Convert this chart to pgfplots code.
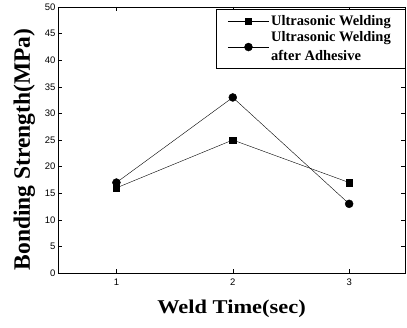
\documentclass[border=0pt]{standalone}
\usepackage{pgfplots}
\pgfplotsset{compat=1.18}
\usepackage{fontspec}
\setmainfont{Liberation Serif}
\newfontfamily\arialfont{Liberation Sans}
\newfontfamily\xlabfont[FakeStretch=1.15]{Liberation Serif}
\begin{document}
\begin{tikzpicture}
\begin{axis}[
  scale only axis,
  width=347pt, height=266pt,
  xmin=0.498, xmax=3.48,
  ymin=0, ymax=50,
  xtick={1,2,3},
  ytick={0,5,...,50},
  tick align=inside,
  major tick length=4pt,
  tick style={black, thin},
  axis line style={black, thin},
  ticklabel style={font=\arialfont\fontsize{9.5}{10}\selectfont},
  yticklabel style={xshift=1pt},
  xticklabel style={yshift=-2pt},
  /pgf/number format/assume math mode=true,
  xlabel={\xlabfont\bfseries Weld Time(sec)},
  ylabel={\bfseries Bonding Strength(MPa)},
  xlabel style={font=\fontsize{19.5}{21}\selectfont, yshift=-8pt},
  ylabel style={font=\fontsize{23.5}{25}\selectfont, at={(ticklabel cs:0.465)}, yshift=3pt},
  legend style={at={(1,1)}, anchor=north east, xshift=0pt, yshift=-2pt,
    draw=black, thin, font=\bfseries\fontsize{14.5}{19}\selectfont,
    cells={align=left}, row sep=1pt, inner xsep=12pt, inner ysep=4pt},
  legend cell align=left,
  legend image code/.code={\draw[mark repeat=2,mark phase=2,#1] plot coordinates {(0cm,0cm) (0.72cm,0cm) (1.44cm,0cm)};},
]
\addplot[black, thin, mark=square*, mark size=3.2pt] coordinates {(1,16) (2,25) (3,17)};
\addlegendentry{Ultrasonic Welding}
\addplot[black, thin, mark=*, mark size=4pt] coordinates {(1,17) (2,33) (3,13)};
\addlegendentry{Ultrasonic Welding\\after Adhesive}
\end{axis}
\pgfresetboundingbox
\path ([shift={(-58pt,-54pt)}]current axis.south west) rectangle ([shift={(2pt,7pt)}]current axis.north east);
\end{tikzpicture}
\end{document}
